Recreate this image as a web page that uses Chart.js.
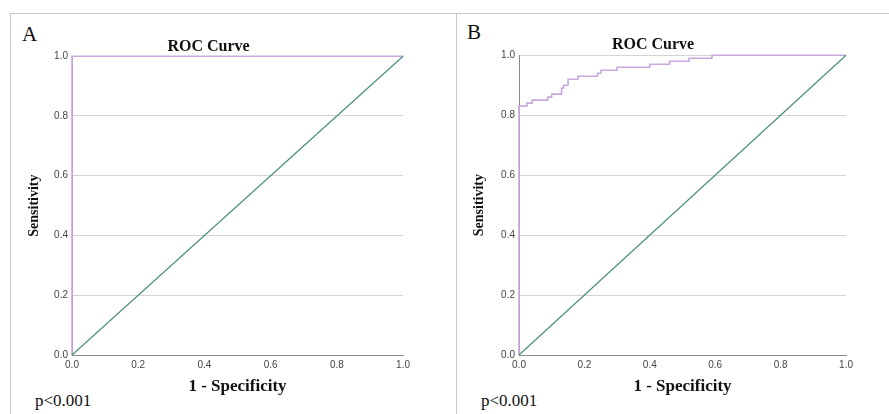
<!DOCTYPE html>
<html>
<head>
<meta charset="utf-8">
<script src="https://cdn.jsdelivr.net/npm/chart.js@4.4.0/dist/chart.umd.min.js"></script>
<style>
  body { margin: 0; width: 889px; height: 414px; background: #fff; position: relative; overflow: hidden; }
  .line { position: absolute; background: #c8c8c8; }
  .lbl { position: absolute; font-family: "Liberation Serif", serif; color: #111; }
  .panel { position: absolute; font-size: 21px; }
  .pval { position: absolute; font-size: 17px; }
  canvas { position: absolute; }
</style>
</head>
<body>
<div class="line" style="left:10px;top:13px;width:879px;height:1px"></div>
<div class="line" style="left:10px;top:13px;width:1px;height:401px"></div>
<div class="line" style="left:456px;top:13px;width:1px;height:401px"></div>

<div class="lbl panel" style="left:22px;top:22px">A</div>
<div class="lbl panel" style="left:467px;top:20px">B</div>
<div class="lbl pval" style="left:35px;top:391px">p&lt;0.001</div>
<div class="lbl pval" style="left:481px;top:391px">p&lt;0.001</div>

<div id="wrapA" style="position:absolute;left:10px;top:14px;width:404px;height:392px"><canvas id="chartA"></canvas></div>
<div id="wrapB" style="position:absolute;left:457px;top:14px;width:400px;height:392px"><canvas id="chartB"></canvas></div>

<script>
// reference diagonal
var refX = [0, 1];
var refY = [0, 1];

// panel A: perfect classifier
var fprA = [0, 0, 1];
var tprA = [0, 1, 1];

// panel B: step curve
var fprB = [0, 0, 0.024, 0.04, 0.088, 0.10, 0.13, 0.136, 0.15, 0.18, 0.24, 0.25, 0.30, 0.40, 0.46, 0.52, 0.59, 1.0];
var tprB = [0, 0.83, 0.84, 0.85, 0.86, 0.87, 0.89, 0.90, 0.92, 0.93, 0.94, 0.95, 0.96, 0.97, 0.98, 0.99, 1.0, 1.0];

var tickValues = [0, 0.2, 0.4, 0.6, 0.8, 1.0];

function toPoints(xs, ys) {
    return xs.map(function (x, i) { return {x: x, y: ys[i]}; });
}

function makeChart(id, fpr, tpr, opt) {
    var ctx = document.getElementById(id).getContext('2d');
    return new Chart(ctx, {
        type: 'scatter',
        data: {
            datasets: [{
                data: toPoints(refX, refY),
                showLine: true,
                borderColor: '#4b8d83',
                borderWidth: 1.2,
                pointRadius: 0,
                clip: false
            }, {
                data: toPoints(fpr, tpr),
                showLine: true,
                stepped: true,
                borderColor: '#cba9de',
                borderWidth: 1.6,
                pointRadius: 0,
                clip: false
            }]
        },
        options: {
            responsive: true,
            maintainAspectRatio: false,
            animation: false,
            layout: { padding: { left: 0, right: opt.padRight, top: 0, bottom: 0 } },
            plugins: {
                legend: { display: false },
                tooltip: { enabled: false },
                title: {
                    display: true,
                    text: 'ROC Curve',
                    color: '#111',
                    font: { family: 'Liberation Serif', size: 16, weight: 'bold' },
                    padding: { top: opt.titleTop, bottom: opt.titleBottom }
                }
            },
            scales: {
                x: {
                    type: 'linear', min: 0, max: 1,
                    afterBuildTicks: function (s) { s.ticks = tickValues.map(function (v) { return {value: v}; }); },
                    afterFit: function (s) { s.height = 51; },
                    grid: { display: false, drawTicks: false },
                    border: { display: true, color: '#8a8a8a', width: 1 },
                    ticks: {
                        color: '#444', padding: 4,
                        font: { family: 'Liberation Sans', size: 10 },
                        maxRotation: 0,
                        callback: function (v) { return v.toFixed(1); }
                    },
                    title: {
                        display: true, text: '1 - Specificity', color: '#111',
                        font: { family: 'Liberation Serif', size: 17, weight: 'bold' },
                        padding: { top: 0, bottom: 9 }
                    }
                },
                y: {
                    type: 'linear', min: 0, max: 1,
                    afterBuildTicks: function (s) { s.ticks = tickValues.map(function (v) { return {value: v}; }); },
                    afterFit: function (s) { s.width = 62; },
                    grid: { color: '#d4d4d4', drawTicks: false, lineWidth: 1 },
                    border: { display: true, color: '#8a8a8a', width: 1 },
                    ticks: {
                        color: '#444', padding: 4,
                        font: { family: 'Liberation Sans', size: 10 },
                        callback: function (v) { return v.toFixed(1); }
                    },
                    title: {
                        display: true, text: 'Sensitivity', color: '#111',
                        font: { family: 'Liberation Serif', size: 14, weight: 'bold' },
                        padding: { top: opt.yTitlePad, bottom: 0 }
                    }
                }
            }
        }
    });
}

makeChart('chartA', fprA, tprA, { padRight: 7, titleTop: 23, titleBottom: 0, yTitlePad: 16 });
makeChart('chartB', fprB, tprB, { padRight: 8, titleTop: 21, titleBottom: 1, yTitlePad: 14 });
</script>
</body>
</html>
